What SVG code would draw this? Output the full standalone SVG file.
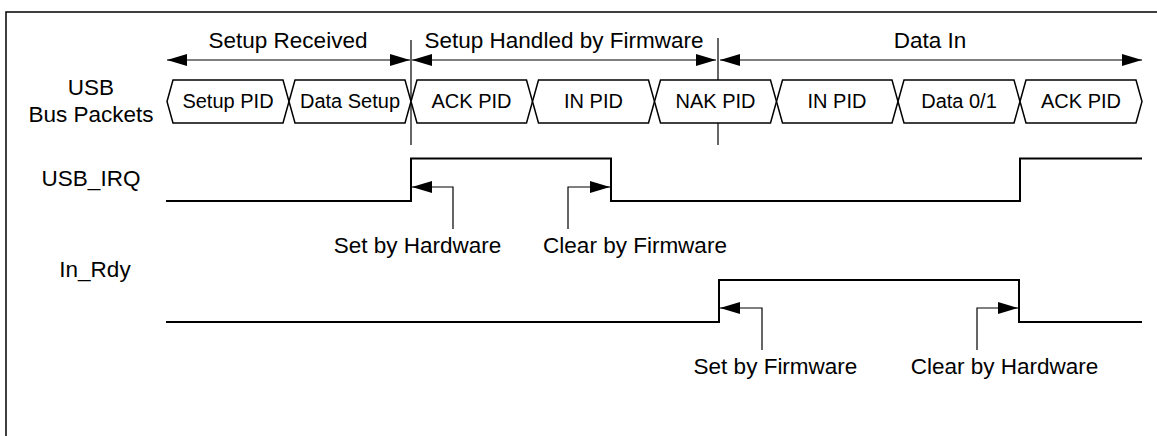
<svg xmlns="http://www.w3.org/2000/svg" width="1157" height="436" viewBox="0 0 1157 436">
<style>
  text { font-family: "Liberation Sans", Arial, sans-serif; fill: #000; }
  .lbl { font-size: 22.5px; }
  .pkt { font-size: 20px; text-anchor: middle; }
  .mid { text-anchor: middle; }
  .hex { fill: #fff; stroke: #000; stroke-width: 1.5; stroke-linejoin: miter; }
  .wave { fill: none; stroke: #000; stroke-width: 2; }
  .thin { fill: none; stroke: #000; stroke-width: 1.2; }
  .frame { fill: none; stroke: #000; stroke-width: 1.5; }
</style>
<defs>
  <marker id="ah" viewBox="0 0 20 12" refX="20" refY="6" markerWidth="20" markerHeight="12" markerUnits="userSpaceOnUse" orient="auto-start-reverse">
    <path d="M0,0 L20,6 L0,12 Z" fill="#000"/>
  </marker>
</defs>
<rect x="0" y="0" width="1157" height="436" fill="#fff"/>
<path class="frame" d="M1157,12 H6 V436"/>

<g id="connectors">
  <line class="thin" x1="411" y1="40" x2="411" y2="145"/>
  <line class="thin" x1="718" y1="38" x2="718" y2="145"/>
  <line class="thin" x1="167" y1="60" x2="410" y2="60" marker-start="url(#ah)" marker-end="url(#ah)"/>
  <line class="thin" x1="412" y1="60" x2="716" y2="60" marker-start="url(#ah)" marker-end="url(#ah)"/>
  <line class="thin" x1="720" y1="60" x2="1142" y2="60" marker-start="url(#ah)" marker-end="url(#ah)"/>
  <path class="thin" d="M453,229 V187 H412" marker-end="url(#ah)"/>
  <path class="thin" d="M568,229 V187 H610" marker-end="url(#ah)"/>
  <path class="thin" d="M762,350 V308 H720" marker-end="url(#ah)"/>
  <path class="thin" d="M977,350 V308 H1018" marker-end="url(#ah)"/>
</g>

<g id="phase-labels">
  <text class="lbl mid" x="288" y="48">Setup Received</text>
  <text class="lbl mid" x="564" y="48">Setup Handled by Firmware</text>
  <text class="lbl mid" x="930" y="48">Data In</text>
</g>

<g id="signal-labels">
  <text class="lbl mid" x="91" y="95">USB</text>
  <text class="lbl mid" x="91" y="122">Bus Packets</text>
  <text class="lbl mid" x="91" y="186">USB_IRQ</text>
  <text class="lbl mid" x="95" y="277">In_Rdy</text>
</g>

<g id="packets">
  <g id="p1"><polygon class="hex" points="173,80 283,80 289,101.5 283,123 173,123 167,101.5"/><text class="pkt" x="228" y="108">Setup PID</text></g>
  <g id="p2"><polygon class="hex" points="295,80 405,80 411,101.5 405,123 295,123 289,101.5"/><text class="pkt" x="350" y="108">Data Setup</text></g>
  <g id="p3"><polygon class="hex" points="417,80 526.5,80 532.5,101.5 526.5,123 417,123 411,101.5"/><text class="pkt" x="471.5" y="108">ACK PID</text></g>
  <g id="p4"><polygon class="hex" points="538.5,80 648.5,80 654.5,101.5 648.5,123 538.5,123 532.5,101.5"/><text class="pkt" x="593.5" y="108">IN PID</text></g>
  <g id="p5"><polygon class="hex" points="660.5,80 770.5,80 776.5,101.5 770.5,123 660.5,123 654.5,101.5"/><text class="pkt" x="715.5" y="108">NAK PID</text></g>
  <g id="p6"><polygon class="hex" points="782.5,80 892,80 898,101.5 892,123 782.5,123 776.5,101.5"/><text class="pkt" x="837" y="108">IN PID</text></g>
  <g id="p7"><polygon class="hex" points="904,80 1014,80 1020,101.5 1014,123 904,123 898,101.5"/><text class="pkt" x="959" y="108">Data 0/1</text></g>
  <g id="p8"><polygon class="hex" points="1026,80 1136,80 1142,101.5 1136,123 1026,123 1020,101.5"/><text class="pkt" x="1081" y="108">ACK PID</text></g>
</g>

<g id="waveforms">
  <path id="usb-irq" class="wave" d="M166,201 H411 V158.5 H611 V201 H1020 V158.5 H1142"/>
  <path id="in-rdy" class="wave" d="M166,322 H719 V280 H1019 V322 H1142"/>
</g>

<g id="annotations">
  <text class="lbl mid" x="417.5" y="253">Set by Hardware</text>
  <text class="lbl mid" x="635" y="253">Clear by Firmware</text>
  <text class="lbl mid" x="775.5" y="374">Set by Firmware</text>
  <text class="lbl mid" x="1004.5" y="374">Clear by Hardware</text>
</g>
</svg>
